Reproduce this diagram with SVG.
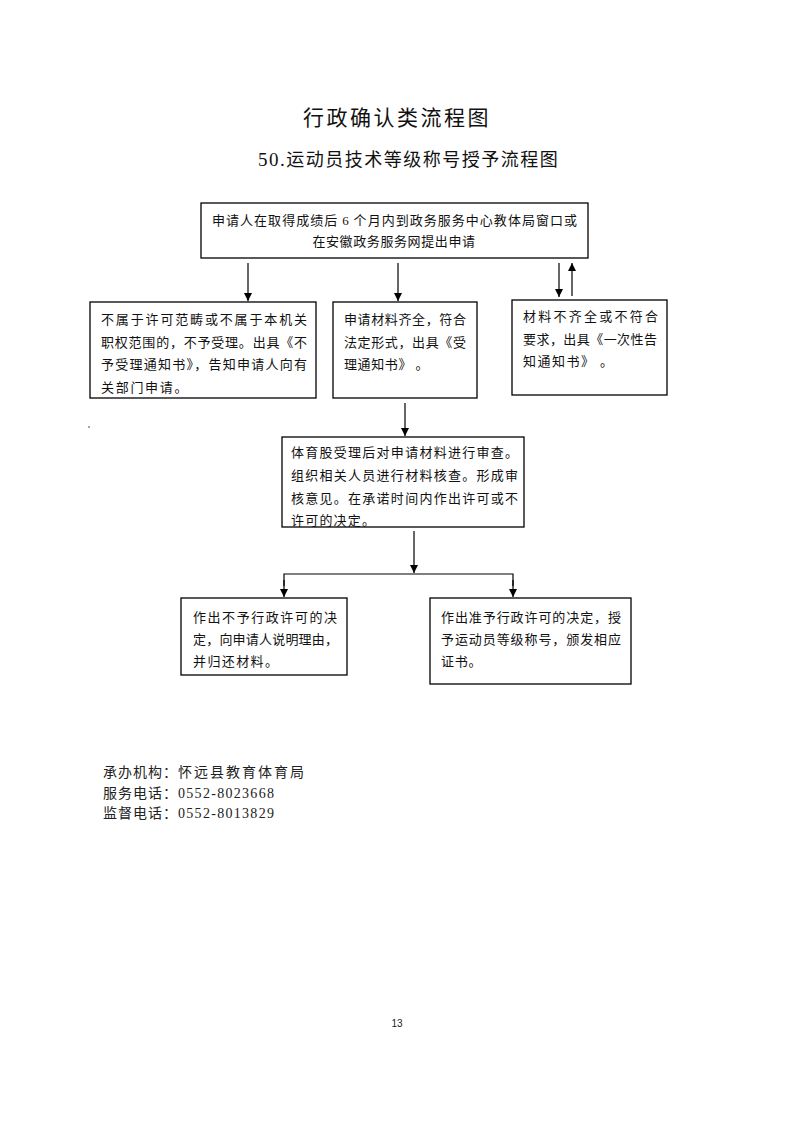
<svg xmlns="http://www.w3.org/2000/svg" width="793" height="1122" viewBox="0 0 793 1122">
<defs>
<marker id="ah" viewBox="0 0 10 10" refX="10" refY="5" markerWidth="8" markerHeight="8" markerUnits="userSpaceOnUse" orient="auto">
<path d="M0,0 L10,5 L0,10 z" fill="#000"/>
</marker>
</defs>
<style>
.box{fill:#fff;stroke:#000;stroke-width:1.3}
.t{font-family:"Noto Sans CJK SC",sans-serif;font-size:13px;fill:#111}
.d{font-family:"Liberation Serif",serif}
.ln{stroke:#000;stroke-width:1.2;fill:none}
.ar{stroke:#000;stroke-width:1.2;fill:none;marker-end:url(#ah)}
.h{font-family:"Noto Sans CJK SC",sans-serif;fill:#111}
.f{font-family:"Noto Sans CJK SC",sans-serif;font-size:14px;fill:#222;letter-spacing:1px}
</style>
<rect width="793" height="1122" fill="#fff"/>
<text class="h" x="397" y="125" font-size="21" letter-spacing="2.5" text-anchor="middle">行政确认类流程图</text>
<text class="h" x="258" y="166" font-size="18" letter-spacing="1.5"><tspan class="d" font-size="19">50.</tspan>运动员技术等级称号授予流程图</text>

<g id="connectors">
<line class="ar" x1="248" y1="263" x2="248" y2="301"/>
<line class="ar" x1="398" y1="263" x2="398" y2="301"/>
<line class="ar" x1="559" y1="263" x2="559" y2="297"/>
<line class="ar" x1="572" y1="296" x2="572" y2="263"/>
<line class="ar" x1="405" y1="403" x2="405" y2="436"/>
<line class="ar" x1="414" y1="531" x2="414" y2="573"/>
<polyline class="ln" points="284,586 284,574 513,574 513,586"/>
<line class="ar" x1="284" y1="580" x2="284" y2="597"/>
<line class="ar" x1="513" y1="580" x2="513" y2="597"/>
</g>

<g id="n1">
<rect class="box" x="201" y="203" width="387" height="55"/>
<text class="t" x="212" y="225" textLength="365" lengthAdjust="spacing">申请人在取得成绩后 <tspan class="d">6</tspan> 个月内到政务服务中心教体局窗口或</text>
<text class="t" x="394" y="246" text-anchor="middle" letter-spacing="0.6">在安徽政务服务网提出申请</text>
</g>

<g id="n2">
<rect class="box" x="90" y="302" width="226" height="96"/>
<text class="t"><tspan x="101" y="324" textLength="206" lengthAdjust="spacing">不属于许可范畴或不属于本机关</tspan><tspan x="101" y="347" textLength="206" lengthAdjust="spacing">职权范围的，不予受理。出具《不</tspan><tspan x="101" y="369" textLength="206" lengthAdjust="spacing">予受理通知书》，告知申请人向有</tspan><tspan x="101" y="392" letter-spacing="1.7">关部门申请。</tspan></text>
</g>

<g id="n3">
<rect class="box" x="333" y="302" width="144" height="96"/>
<text class="t"><tspan x="344" y="324" textLength="122" lengthAdjust="spacing">申请材料齐全，符合</tspan><tspan x="344" y="347" textLength="122" lengthAdjust="spacing">法定形式，出具《受</tspan><tspan x="344" y="369" letter-spacing="0.6">理通知书》 。</tspan></text>
</g>

<g id="n4">
<rect class="box" x="512" y="300" width="155" height="95"/>
<text class="t"><tspan x="523" y="321" textLength="135" lengthAdjust="spacing">材料不齐全或不符合</tspan><tspan x="523" y="344" textLength="134" lengthAdjust="spacing">要求，出具《一次性告</tspan><tspan x="523" y="366" letter-spacing="1.5">知通知书》 。</tspan></text>
</g>

<g id="n5">
<rect class="box" x="282" y="437" width="242" height="90"/>
<text class="t"><tspan x="291" y="457" textLength="227" lengthAdjust="spacing">体育股受理后对申请材料进行审查。</tspan><tspan x="291" y="480" textLength="227" lengthAdjust="spacing">组织相关人员进行材料核查。形成审</tspan><tspan x="291" y="503" textLength="227" lengthAdjust="spacing">核意见。在承诺时间内作出许可或不</tspan><tspan x="291" y="525" letter-spacing="1.2">许可的决定。</tspan></text>
</g>

<g id="n6">
<rect class="box" x="181" y="598" width="166" height="77"/>
<text class="t"><tspan x="193" y="622" textLength="144" lengthAdjust="spacing">作出不予行政许可的决</tspan><tspan x="193" y="644" textLength="145" lengthAdjust="spacing">定，向申请人说明理由，</tspan><tspan x="193" y="666" letter-spacing="1.4">并归还材料。</tspan></text>
</g>

<g id="n7">
<rect class="box" x="430" y="598" width="201" height="86"/>
<text class="t"><tspan x="441" y="622" textLength="180" lengthAdjust="spacing">作出准予行政许可的决定，授</tspan><tspan x="441" y="644" textLength="180" lengthAdjust="spacing">予运动员等级称号，颁发相应</tspan><tspan x="441" y="666" letter-spacing="0.8">证书。</tspan></text>
</g>

<circle cx="89" cy="427" r="0.8" fill="#333"/>

<text class="f" x="103" y="777">承办机构：<tspan letter-spacing="2">怀远县教育体育局</tspan></text>
<text class="f" x="103" y="798">服务电话：<tspan class="d" letter-spacing="1.3">0552-8023668</tspan></text>
<text class="f" x="103" y="818">监督电话：<tspan class="d" letter-spacing="1.3">0552-8013829</tspan></text>

<text x="397" y="1027" font-family="Liberation Sans, sans-serif" font-size="10" text-anchor="middle" fill="#222">13</text>
</svg>
